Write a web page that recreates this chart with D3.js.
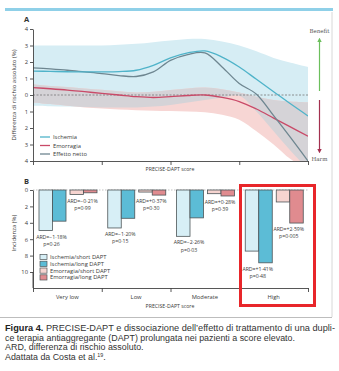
<!DOCTYPE html>
<html><head><meta charset="utf-8">
<script src="https://cdn.jsdelivr.net/npm/d3@7"></script>
<style>body{margin:0;background:#fff}svg{display:block;font-family:"Open Sans",sans-serif}</style>
</head><body><svg id="c" width="339" height="371"></svg>
<script>
// ---------- Panel A data (PRECISE-DAPT score, arbitrary units 0-4) ----------
const scoreX      = [0, 0.25, 0.5, 0.75, 1, 1.25, 1.5, 1.75, 2, 2.25, 2.5, 2.75, 3, 3.25, 3.5, 3.75, 4];
const ischemia    = [1.45, 1.43, 1.41, 1.40, 1.40, 1.42, 1.5, 1.8, 2.25, 2.55, 2.67, 2.3, 1.7, 0.95, 0.2, -0.55, -1.27];
const emorragia   = [0.45, 0.38, 0.3, 0.2, 0.1, 0.0, -0.1, -0.15, -0.1, -0.03, 0.0, -0.15, -0.4, -0.85, -1.4, -1.95, -2.5];
const netto       = [1.65, 1.58, 1.5, 1.4, 1.3, 1.18, 1.12, 1.4, 2.1, 2.45, 2.55, 1.7, 0.7, 0.05, -1.25, -2.6, -4.0];
const ischUpper   = [3.0, 3.0, 3.0, 3.0, 3.0, 3.05, 3.1, 3.2, 3.3, 3.4, 3.4, 3.25, 3.0, 2.65, 2.25, 1.95, 1.7];
const ischLower   = [-0.65, -0.68, -0.7, -0.72, -0.75, -0.75, -0.75, -0.7, -0.6, -0.45, -0.3, -0.15, -0.05, -1.0, -2.2, -3.4, -4.5];
const emoUpper    = [0.65, 0.55, 0.48, 0.4, 0.32, 0.22, 0.15, 0.2, 0.3, 0.4, 0.45, 0.35, 0.15, -0.1, -0.3, -0.4, -0.45];
const emoLower    = [-0.45, -0.55, -0.65, -0.75, -0.82, -0.88, -0.92, -0.95, -0.97, -1.0, -1.05, -1.2, -1.5, -2.2, -3.0, -3.9, -4.5];
const yTicksA     = [-4, -3, -2, -1, 0, 1, 2, 3, 4];
const legendA     = ["Ischemia", "Emorragia", "Effetto netto"];

// ---------- Panel B data ----------
const categories  = ["Very low", "Low", "Moderate", "High"];
const seriesB     = ["Ischemia/short DAPT", "Ischemia/long DAPT", "Emorragia/short DAPT", "Emorragia/long DAPT"];
const ischShort   = [4.95, 4.63, 5.65, 7.45];
const ischLong    = [3.8, 3.45, 3.4, 8.88];
const emoShort    = [0.55, 0.25, 0.45, 1.46];
const emoLong     = [0.34, 0.62, 0.73, 4.03];
const ardIsch     = ["ARD=\u22121\u00b718%", "ARD=\u22121\u00b720%", "ARD=\u22122\u00b726%", "ARD=+1\u00b741%"];
const pIsch       = ["p=0\u00b726", "p=0\u00b715", "p=0\u00b703", "p=0\u00b748"];
const ardEmo      = ["ARD=\u22120\u00b721%", "ARD=+0\u00b737%", "ARD=+0\u00b728%", "ARD=+2\u00b759%"];
const pEmo        = ["p=0\u00b799", "p=0\u00b730", "p=0\u00b739", "p=0\u00b7005"];
const yTicksB     = [0, 2, 4, 6, 8, 10];

const svg = d3.select("#c");
svg.append("rect").attr("width", 339).attr("height", 371).attr("fill", "#fff");

// frame decorations
svg.append("rect").attr("x", 5).attr("y", 8).attr("width", 328).attr("height", 3).attr("fill", "#8fd0e8");
svg.append("line").attr("x1", 332).attr("x2", 332).attr("y1", 12).attr("y2", 317).attr("stroke", "#d8d8d8").attr("stroke-width", 1);
svg.append("line").attr("x1", 0).attr("x2", 332).attr("y1", 317.5).attr("y2", 317.5).attr("stroke", "#bdbdbd").attr("stroke-width", 1);

const axCol = "#444", txtCol = "#3a3a3a";
const fs = 5.8;

// ================= Panel A =================
const xA = d3.scaleLinear().domain([0, 4]).range([33, 308]);
const yA = d3.scaleLinear().domain([-4, 4]).range([161, 29]);
const idx = d3.range(scoreX.length);
const defs = svg.append("defs");
defs.append("clipPath").attr("id", "plotA").append("rect").attr("x", 33).attr("y", 29).attr("width", 275).attr("height", 132);
const bandArea = (lo, hi) => d3.area().x(i => xA(scoreX[i])).y0(i => yA(lo[i])).y1(i => yA(hi[i])).curve(d3.curveCatmullRom);
defs.append("clipPath").attr("id", "blueClip").append("path").attr("d", bandArea(ischLower, ischUpper)(idx));

const gA = svg.append("g").attr("clip-path", "url(#plotA)");
gA.append("path").attr("d", bandArea(ischLower, ischUpper)(idx)).attr("fill", "#d6edf4");
gA.append("path").attr("d", bandArea(emoLower, emoUpper)(idx)).attr("fill", "#f7d6d4");
gA.append("g").attr("clip-path", "url(#blueClip)")
  .append("path").attr("d", bandArea(emoLower, emoUpper)(idx)).attr("fill", "#d5d3d7");
gA.append("line").attr("x1", xA(0)).attr("x2", xA(4)).attr("y1", yA(0)).attr("y2", yA(0))
  .attr("stroke", "#777").attr("stroke-width", 0.8).attr("stroke-dasharray", "2,1.5");
const lineGen = arr => d3.line().x(i => xA(scoreX[i])).y(i => yA(arr[i])).curve(d3.curveCatmullRom)(idx);
const colIsch = "#4fb3c9", colEmo = "#c94a68", colNet = "#6e8690";
gA.append("path").attr("d", lineGen(emorragia)).attr("fill", "none").attr("stroke", colEmo).attr("stroke-width", 1.3);
gA.append("path").attr("d", lineGen(netto)).attr("fill", "none").attr("stroke", colNet).attr("stroke-width", 1.3);
gA.append("path").attr("d", lineGen(ischemia)).attr("fill", "none").attr("stroke", colIsch).attr("stroke-width", 1.3);

function styleAxis(g) {
  g.selectAll("path,line").attr("stroke", axCol).attr("stroke-width", 0.9);
  g.selectAll("text").attr("fill", txtCol).attr("font-size", fs).attr("font-family", "Open Sans");
}
svg.append("g").attr("transform", "translate(33,0)")
  .call(d3.axisLeft(yA).tickValues(yTicksA).tickFormat(d => Math.abs(d)).tickSize(3).tickSizeOuter(0).tickPadding(2))
  .call(styleAxis);
svg.append("g").attr("transform", "translate(0,161)")
  .call(d3.axisBottom(xA).tickValues([0, 1, 2, 3, 4]).tickFormat("").tickSize(4).tickSizeOuter(0))
  .call(styleAxis);
svg.append("text").attr("x", 170).attr("y", 171).attr("text-anchor", "middle").attr("font-size", 5.2).attr("fill", txtCol).text("PRECISE-DAPT score");
svg.append("text").attr("x", 24).attr("y", 22).attr("font-size", 7.5).attr("font-weight", "bold").attr("fill", "#333").text("A");
svg.append("text").attr("transform", "translate(16,95) rotate(-90)").attr("text-anchor", "middle")
  .attr("font-size", 6).attr("fill", txtCol).text("Differenza di rischio assoluto  (%)");

// legend A
const legColsA = [colIsch, colEmo, colNet];
legendA.forEach((t, i) => {
  const y = 137 + i * 8.5;
  svg.append("line").attr("x1", 40).attr("x2", 50).attr("y1", y).attr("y2", y).attr("stroke", legColsA[i]).attr("stroke-width", 1.3);
  svg.append("text").attr("x", 53).attr("y", y + 2).attr("font-size", fs).attr("fill", txtCol).text(t);
});

// Benefit / Harm arrows
defs.append("marker").attr("id", "arrG").attr("viewBox", "0 0 10 10").attr("refX", 5).attr("refY", 5)
  .attr("markerWidth", 4).attr("markerHeight", 4).attr("orient", "auto")
  .append("path").attr("d", "M0,0L10,5L0,10z").attr("fill", "#6cbf5c");
defs.append("marker").attr("id", "arrR").attr("viewBox", "0 0 10 10").attr("refX", 5).attr("refY", 5)
  .attr("markerWidth", 4).attr("markerHeight", 4).attr("orient", "auto")
  .append("path").attr("d", "M0,0L10,5L0,10z").attr("fill", "#a3304f");
svg.append("line").attr("x1", 319.5).attr("x2", 319.5).attr("y1", 91).attr("y2", 40).attr("stroke", "#6cbf5c").attr("stroke-width", 1.2).attr("marker-end", "url(#arrG)");
svg.append("line").attr("x1", 319.5).attr("x2", 319.5).attr("y1", 100).attr("y2", 151).attr("stroke", "#a3304f").attr("stroke-width", 1.2).attr("marker-end", "url(#arrR)");
svg.append("text").attr("x", 319.5).attr("y", 33).attr("text-anchor", "middle").attr("font-size", 5.5).attr("font-family", "DejaVu Serif").attr("fill", "#555").text("Benefit");
svg.append("text").attr("x", 319.5).attr("y", 161).attr("text-anchor", "middle").attr("font-size", 5.5).attr("font-family", "DejaVu Serif").attr("fill", "#555").text("Harm");

// ================= Panel B =================
const xB = d3.scaleBand().domain(categories).range([33, 308]);
const yB = d3.scaleLinear().domain([0, 12]).range([190, 288.4]);
const offs = [6, 19.5, 37, 50.5], bw = 13.5;
const fills = ["#d7eff6", "#5cbcd6", "#f6d4d0", "#e08b8f"];
const seriesVals = [ischShort, ischLong, emoShort, emoLong];
svg.append("line").attr("x1", 33).attr("x2", 308).attr("y1", yB(0)).attr("y2", yB(0)).attr("stroke", "#999").attr("stroke-width", 0.6).attr("stroke-dasharray", "1.5,1.5");
seriesVals.forEach((vals, s) => {
  svg.append("g").selectAll("rect").data(categories).join("rect")
    .attr("x", c => xB(c) + offs[s]).attr("width", bw)
    .attr("y", yB(0)).attr("height", (c, i) => yB(vals[i]) - yB(0))
    .attr("fill", fills[s]).attr("stroke", "#4d5558").attr("stroke-width", 0.8);
});
categories.forEach((c, i) => {
  const cxI = xB(c) + offs[0] + bw;
  const yI = yB(Math.max(ischShort[i], ischLong[i])) + 8;
  svg.append("text").attr("x", cxI - 1).attr("y", yI).attr("text-anchor", "middle").attr("font-size", 5.2).attr("fill", txtCol).text(ardIsch[i]);
  svg.append("text").attr("x", cxI - 1).attr("y", yI + 7.5).attr("text-anchor", "middle").attr("font-size", 5.2).attr("fill", txtCol).text(pIsch[i]);
  const cxE = xB(c) + offs[2] + bw;
  const yE = yB(Math.max(emoShort[i], emoLong[i])) + 8;
  svg.append("text").attr("x", cxE - 1).attr("y", yE).attr("text-anchor", "middle").attr("font-size", 5.2).attr("fill", txtCol).text(ardEmo[i]);
  svg.append("text").attr("x", cxE - 1).attr("y", yE + 7).attr("text-anchor", "middle").attr("font-size", 5.2).attr("fill", txtCol).text(pEmo[i]);
});
svg.append("g").attr("transform", "translate(33,0)")
  .call(d3.axisLeft(yB).tickValues(yTicksB).tickSize(3).tickSizeOuter(0).tickPadding(2))
  .call(styleAxis);
svg.append("line").attr("x1", 33).attr("x2", 33).attr("y1", yB(10)).attr("y2", 288).attr("stroke", axCol).attr("stroke-width", 0.9);
svg.append("g").attr("transform", "translate(0,288)")
  .call(d3.axisBottom(xA).tickValues([0, 1, 2, 3, 4]).tickFormat("").tickSize(4).tickSizeOuter(0))
  .call(styleAxis);
categories.forEach(c => {
  svg.append("text").attr("x", xB(c) + xB.bandwidth() / 2).attr("y", 298.5).attr("text-anchor", "middle").attr("font-size", fs).attr("fill", txtCol).text(c);
});
svg.append("text").attr("x", 170).attr("y", 308).attr("text-anchor", "middle").attr("font-size", 5.2).attr("fill", txtCol).text("PRECISE-DAPT score");
svg.append("text").attr("x", 24).attr("y", 184).attr("font-size", 7.5).attr("font-weight", "bold").attr("fill", "#333").text("B");
svg.append("text").attr("transform", "translate(16,233) rotate(-90)").attr("text-anchor", "middle")
  .attr("font-size", 6).attr("fill", txtCol).text("Incidenza  (%)");
// legend B
seriesB.forEach((t, i) => {
  const y = 257 + i * 6.8;
  svg.append("rect").attr("x", 40).attr("y", y - 2.6).attr("width", 7).attr("height", 5.2).attr("fill", fills[i]).attr("stroke", "#4d5558").attr("stroke-width", 0.7);
  svg.append("text").attr("x", 50).attr("y", y + 2).attr("font-size", fs).attr("fill", txtCol).text(t);
});
// highlight box
svg.append("rect").attr("x", 240.5).attr("y", 185.5).attr("width", 74).attr("height", 120).attr("fill", "none").attr("stroke", "#e8262a").attr("stroke-width", 3);

// ================= Caption =================
// measured in Open Sans, drawn in a font with a tighter line box so lines do not collide
const cap = svg.append("g").attr("font-size", 8.6).attr("fill", "#333").attr("font-family", "Open Sans");
const l1 = cap.append("text").attr("x", 5).attr("y", 331);
l1.append("tspan").attr("font-weight", "bold").attr("fill", "#222").text("Figura 4.");
l1.append("tspan").text(" PRECISE-DAPT e dissociazione dell\u2019effetto di trattamento di una dupli-");
const l2 = cap.append("text").attr("x", 5).attr("y", 340.5).text("ce terapia antiaggregante (DAPT) prolungata nei pazienti a score elevato.");
const l3 = cap.append("text").attr("x", 5).attr("y", 350).text("ARD, differenza di rischio assoluto.");
const l4 = cap.append("text").attr("x", 5).attr("y", 359.5);
l4.append("tspan").text("Adattata da Costa et al.");
l4.append("tspan").attr("font-size", 5).attr("dy", -2.5).text("19");
l4.append("tspan").attr("dy", 2.5).text(".");
const widths = [l1, l2, l3, l4].map(t => t.node().getComputedTextLength());
widths[0] = 330;
[l1, l2, l3, l4].forEach((t, i) => {
  t.attr("font-family", "Liberation Sans").attr("font-size", 8.3)
   .attr("textLength", widths[i]).attr("lengthAdjust", "spacingAndGlyphs");
});
</script></body></html>
